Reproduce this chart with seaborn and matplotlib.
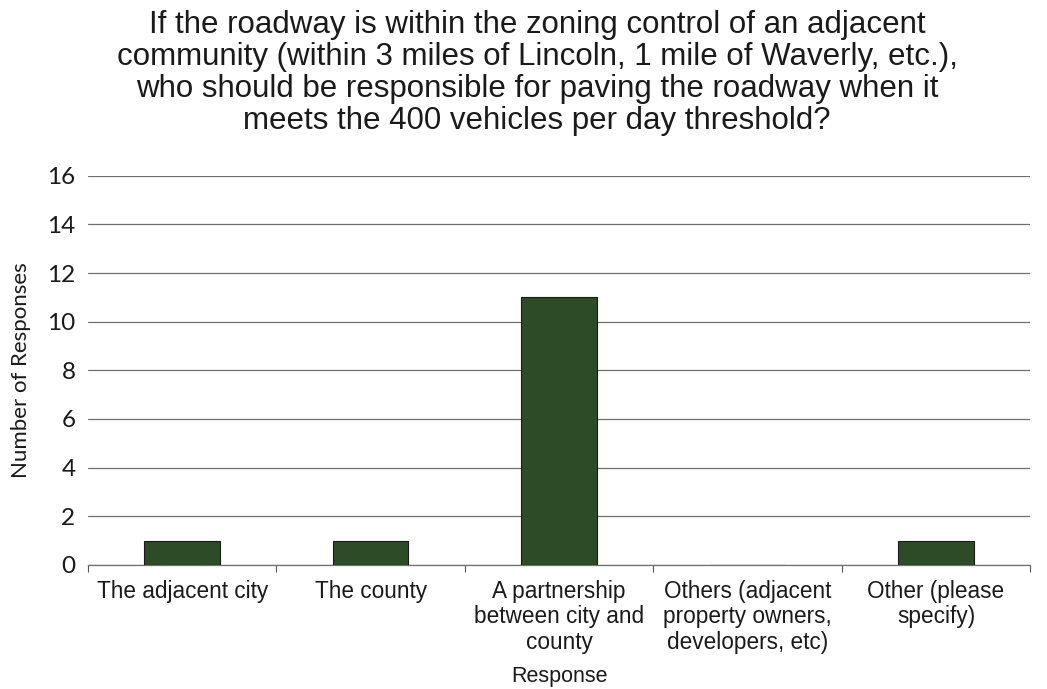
import numpy as np
import pandas as pd
import seaborn as sns
import matplotlib.pyplot as plt
from matplotlib.ticker import FixedLocator

# Chart data ---------------------------------------------------------------
responses = ["The adjacent city", "The county",
             "A partnership\nbetween city and\ncounty",
             "Others (adjacent\nproperty owners,\ndevelopers, etc)",
             "Other (please\nspecify)"]
counts = [1, 1, 11, 0, 1]
y_ticks = [0, 2, 4, 6, 8, 10, 12, 14, 16]

title = ("If the roadway is within the zoning control of an adjacent\n"
         "community (within 3 miles of Lincoln, 1 mile of Waverly, etc.),\n"
         "who should be responsible for paving the roadway when it\n"
         "meets the 400 vehicles per day threshold?")

df = pd.DataFrame({"Response": responses, "Count": counts})

# Figure -------------------------------------------------------------------
sns.set_theme(style="white")
plt.rcParams['font.family'] = ['Liberation Sans', 'DejaVu Sans']

fig = plt.figure(figsize=(10.47, 6.89), dpi=100)
ax = fig.add_axes([0.084, 0.18, 0.9, 0.565])

sns.barplot(data=df, x="Response", y="Count", color="#2e4b27",
            saturation=1, width=0.4, edgecolor="#1a1a1a", linewidth=0.8,
            ax=ax, zorder=3)

ax.set_ylim(0, 16)
ax.set_xlim(-0.5, len(responses) - 0.5)
ax.set_yticks(y_ticks)
ax.yaxis.grid(True, color="#707070", linewidth=0.9)
ax.set_axisbelow(True)

for side in ["left", "right", "top"]:
    ax.spines[side].set_visible(False)
ax.spines["bottom"].set_color("#707070")
ax.spines["bottom"].set_linewidth(0.9)

# Excel-style tick marks between categories
ax.tick_params(axis="x", which="major", length=0, labelsize=16.3, pad=11,
               labelcolor="#1a1a1a")
for lbl in ax.get_xticklabels():
    lbl.set_linespacing(1.12)
ax.xaxis.set_minor_locator(FixedLocator(np.arange(-0.5, len(responses), 1.0)))
ax.tick_params(axis="x", which="minor", bottom=True, length=5,
               width=0.8, color="#555555")
ax.tick_params(axis="y", length=0, labelsize=17.5, pad=9, labelcolor="#1a1a1a")
for lbl in ax.get_yticklabels():
    lbl.set_family(['Lato', 'DejaVu Sans'])

ax.set_xlabel("Response", fontsize=15.5, labelpad=9, color="#1a1a1a")
ax.set_ylabel("Number of Responses", fontsize=16, labelpad=12,
              color="#1a1a1a", family=['Lato', 'DejaVu Sans'])

fig.text(0.513, 0.985, title, ha="center", va="top", fontsize=22.5,
         linespacing=1.08, color="#1a1a1a")

fig.savefig("out.png", dpi=100)
